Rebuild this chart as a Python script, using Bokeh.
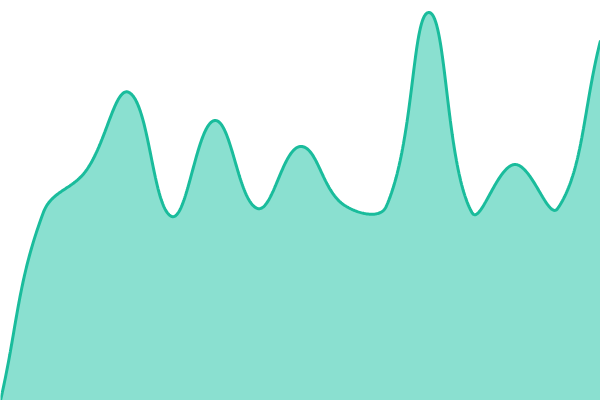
import numpy as np
from bokeh.plotting import figure
from bokeh.models import Range1d
from bokeh.embed import file_html
from bokeh.resources import INLINE

# data
labels = list(range(15))
values = [0, 47, 57.5, 77, 46, 70, 48, 63.5, 49, 48.5, 97, 47, 59, 48, 90]

W, H = 600, 400
TENSION = 0.4
LINE_COLOR = "#1abc9c"
FILL_COLOR = "#8ae0d0"

x_max = len(labels) - 1
y_max = 100

# spline (Chart.js-style) computed in screen proportions, returned in data units
sx = W / x_max
sy = H / y_max
px = np.array(labels, dtype=float) * sx
py = np.array(values, dtype=float) * sy
n = len(px)
cp_prev = np.zeros((n, 2))
cp_next = np.zeros((n, 2))
for i in range(n):
    p0 = (px[max(i - 1, 0)], py[max(i - 1, 0)])
    p1 = (px[i], py[i])
    p2 = (px[min(i + 1, n - 1)], py[min(i + 1, n - 1)])
    d01 = np.hypot(p1[0] - p0[0], p1[1] - p0[1])
    d12 = np.hypot(p2[0] - p1[0], p2[1] - p1[1])
    tot = d01 + d12
    s01 = d01 / tot if tot else 0
    s12 = d12 / tot if tot else 0
    fa = TENSION * s01
    fb = TENSION * s12
    cp_prev[i] = (p1[0] - fa * (p2[0] - p0[0]), p1[1] - fa * (p2[1] - p0[1]))
    cp_next[i] = (p1[0] + fb * (p2[0] - p0[0]), p1[1] + fb * (p2[1] - p0[1]))
    cp_prev[i, 1] = min(max(cp_prev[i, 1], 0), H)
    cp_next[i, 1] = min(max(cp_next[i, 1], 0), H)

xs, ys = [], []
t = np.linspace(0, 1, 60)
for i in range(n - 1):
    P0 = np.array([px[i], py[i]])
    P1 = cp_next[i]
    P2 = cp_prev[i + 1]
    P3 = np.array([px[i + 1], py[i + 1]])
    tt = t if i == 0 else t[1:]
    for v in tt:
        b = (1 - v) ** 3 * P0 + 3 * (1 - v) ** 2 * v * P1 + 3 * (1 - v) * v ** 2 * P2 + v ** 3 * P3
        xs.append(b[0] / sx)
        ys.append(b[1] / sy)

p = figure(width=W, height=H, x_range=Range1d(0, x_max), y_range=Range1d(0, y_max),
           toolbar_location=None, output_backend="svg", min_border=0,
           x_axis_location=None, y_axis_location=None, outline_line_color=None,
           background_fill_color="white", border_fill_color="white")
p.grid.visible = False

p.varea(x=xs, y1=[0] * len(xs), y2=ys, fill_color=FILL_COLOR, fill_alpha=1.0)
p.line(x=xs, y=ys, line_color=LINE_COLOR, line_width=3)

open("out.html", "w").write(file_html(p, INLINE))
